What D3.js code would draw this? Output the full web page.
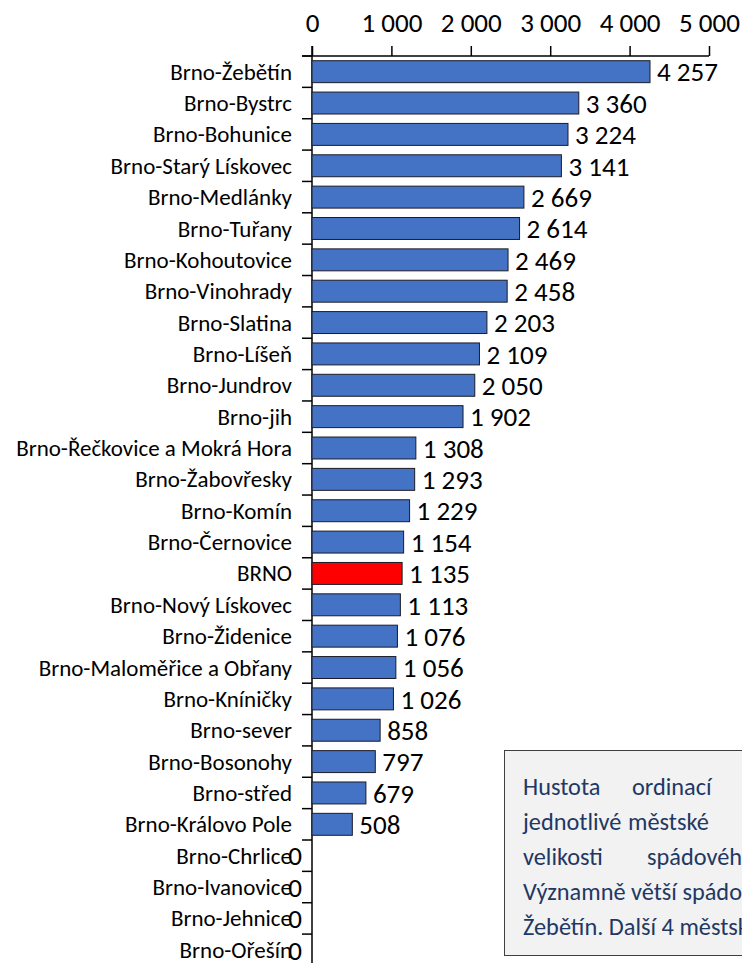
<!DOCTYPE html>
<html>
<head>
<meta charset="utf-8">
<script src="https://cdn.jsdelivr.net/npm/d3@7"></script>
<style>
  body { margin: 0; background: #fff; overflow: hidden; }
  svg { display: block; font-family: Carlito, Lato, "Open Sans", sans-serif; }
</style>
</head>
<body>
<script>
// categories and values (top to bottom)
var districts = ["Brno-Žebětín", "Brno-Bystrc", "Brno-Bohunice", "Brno-Starý Lískovec",
  "Brno-Medlánky", "Brno-Tuřany", "Brno-Kohoutovice", "Brno-Vinohrady", "Brno-Slatina",
  "Brno-Líšeň", "Brno-Jundrov", "Brno-jih", "Brno-Řečkovice a Mokrá Hora", "Brno-Žabovřesky",
  "Brno-Komín", "Brno-Černovice", "BRNO", "Brno-Nový Lískovec", "Brno-Židenice",
  "Brno-Maloměřice a Obřany", "Brno-Kníničky", "Brno-sever", "Brno-Bosonohy", "Brno-střed",
  "Brno-Královo Pole", "Brno-Chrlice", "Brno-Ivanovice", "Brno-Jehnice", "Brno-Ořešín"];
var density = [4257, 3360, 3224, 3141, 2669, 2614, 2469, 2458, 2203, 2109, 2050, 1902,
  1308, 1293, 1229, 1154, 1135, 1113, 1076, 1056, 1026, 858, 797, 679, 508, 0, 0, 0, 0];
var xTicks = [0, 1000, 2000, 3000, 4000, 5000];
var highlight = "BRNO";

// note text, cut by the right edge of the picture
var noteLines = [
  ["Hustota", "ordinací", "praktických"],
  ["jednotlivé", "městské", "části"],
  ["velikosti", "spádového", "obvodu"],
  ["Významně větší spádovou"],
  ["Žebětín. Další 4 městské"]
];

var width = 742, height = 963;
var x0 = 312, x1 = 709, axisY = 56, step = 31.36;

var locale = d3.formatLocale({decimal: ",", thousands: "\u00a0", grouping: [3], currency: ["", " Kč"]});
var fmt = locale.format(",");

var data = districts.map(function(d, i) { return {name: d, value: density[i]}; });

var svg = d3.select("body").append("svg")
  .attr("width", width)
  .attr("height", height);

// pick font sizes so the text widths match the picture
function fitSize(str, target) {
  var t = svg.append("text").style("font-size", "20px").text(str);
  var len = t.node().getComputedTextLength();
  t.remove();
  return 20 * target / len;
}
var labelSize = fitSize("Brno-Řečkovice a Mokrá Hora", 276);
var numSize = fitSize("3\u00a0360", 61);
var noteSize = fitSize("Významně větší ", 154);

var xScale = d3.scaleLinear().domain([0, 5000]).range([x0, x1]);
var yScale = d3.scaleBand()
  .domain(districts)
  .range([axisY, axisY + step * districts.length])
  .paddingInner(0.3)
  .paddingOuter(0.15);

// top axis
var xAxis = d3.axisTop(xScale)
  .tickValues(xTicks)
  .tickSize(10)
  .tickSizeOuter(0)
  .tickFormat(fmt);

var gx = svg.append("g")
  .attr("class", "x axis")
  .attr("transform", "translate(0," + axisY + ")")
  .call(xAxis);
gx.select(".domain").attr("d", "M302,0H" + x1).attr("stroke-width", 1.5);
gx.selectAll("line").attr("stroke", "#000").attr("stroke-width", 1.5);
gx.selectAll("text")
  .attr("y", -24)
  .attr("dy", 0)
  .style("font-size", numSize + "px")
  .style("font-family", "Carlito, Lato, sans-serif")
  .attr("fill", "#000");

// left axis line with category separator ticks
var bounds = d3.range(districts.length + 1).map(function(i) { return axisY + i * step; });
svg.append("line")
  .attr("x1", x0).attr("x2", x0)
  .attr("y1", axisY - 10).attr("y2", height)
  .attr("stroke", "#000").attr("stroke-width", 1.5);
svg.append("g").attr("class", "y ticks")
  .selectAll("line")
  .data(bounds)
  .enter().append("line")
  .attr("x1", x0 - 10).attr("x2", x0)
  .attr("y1", function(d) { return d; })
  .attr("y2", function(d) { return d; })
  .attr("stroke", "#000").attr("stroke-width", 1.5);

// bars
svg.append("g").attr("class", "bars")
  .selectAll("rect")
  .data(data)
  .enter().append("rect")
  .attr("x", xScale(0))
  .attr("y", function(d) { return yScale(d.name); })
  .attr("width", function(d) { return xScale(d.value) - xScale(0); })
  .attr("height", yScale.bandwidth())
  .style("fill", function(d) { return d.name === highlight ? "#ff0000" : "#4472c4"; })
  .style("stroke", function(d) { return d.value > 0 ? "#1c1c28" : "none"; })
  .style("stroke-width", 1);

// category labels
svg.append("g").attr("class", "labels")
  .selectAll("text")
  .data(data)
  .enter().append("text")
  .attr("x", 292)
  .attr("y", function(d) { return yScale(d.name) + yScale.bandwidth() / 2; })
  .attr("dy", "0.35em")
  .attr("text-anchor", "end")
  .style("font-size", labelSize + "px")
  .text(function(d) { return d.name; });

// value labels
svg.append("g").attr("class", "values")
  .selectAll("text")
  .data(data)
  .enter().append("text")
  .attr("x", function(d) { return d.value > 0 ? xScale(d.value) + 7 : xScale(0) - 10; })
  .attr("y", function(d) { return yScale(d.name) + yScale.bandwidth() / 2; })
  .attr("dy", "0.36em")
  .attr("text-anchor", function(d) { return d.value > 0 ? "start" : "end"; })
  .style("font-size", numSize + "px")
  .text(function(d) { return fmt(d.value); });

// note box
var note = svg.append("g").attr("class", "note");
note.append("rect")
  .attr("x", 504.5).attr("y", 750.5)
  .attr("width", 260).attr("height", 205)
  .style("fill", "#f2f2f2")
  .style("stroke", "#404040")
  .style("stroke-width", 1);

// justified lines get word positions, the last lines run on normally
var wordX = [
  [523, 632, 745],
  [523, 628, 745],
  [523, 647, 745],
  [523],
  [523]
];
noteLines.forEach(function(words, li) {
  var t = note.append("text")
    .attr("y", 795 + li * 35)
    .style("font-size", noteSize + "px")
    .attr("fill", "#1f3864");
  words.forEach(function(w, wi) {
    t.append("tspan").attr("x", wordX[li][wi]).text(w);
  });
});
</script>
</body>
</html>
